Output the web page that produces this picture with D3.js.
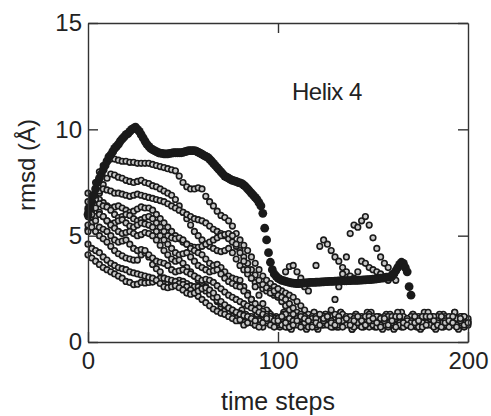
<!DOCTYPE html>
<head>
<meta charset="utf-8">
<style>

body {
  margin: 0;
  background: #fff;
}

.chart text {
  font-family: "Liberation Sans", Arial, sans-serif;
  fill: #222;
}

.axis path,
.axis line {
  stroke: #333;
  stroke-width: 1.4;
}

.axis text {
  font-size: 24px;
}

.run circle {
  fill: #c8c8c8;
  stroke: #1a1a1a;
  stroke-width: 1.6;
}

.main circle {
  fill: #1a1a1a;
}

</style>
</head>
<body>
<svg class="chart"></svg>
<script src="https://d3js.org/d3.v7.min.js"></script>
<script>

/* global d3 */

const chartDimension = {width: 491, height: 416}
const plot = {left: 88, right: 468, top: 23, bottom: 342}

const xTicks = [0, 100, 200]
const yTicks = [0, 5, 10, 15]

// heavy run, one value per time step from t = 0
const mainRun = [
  6.0, 6.3, 6.6, 6.9, 7.2, 7.5, 7.7, 7.9, 8.1, 8.3, 8.5,
  8.7, 8.8, 8.95, 9.1, 9.2, 9.3, 9.45, 9.55, 9.65, 9.75, 9.8, 9.9, 10.0, 10.05, 10.1,
  10.0, 9.9, 9.75, 9.6, 9.45, 9.3, 9.2, 9.1, 9.05, 9.0, 8.95, 8.9, 8.88, 8.87, 8.85,
  8.85, 8.85, 8.87, 8.88, 8.9, 8.9, 8.9, 8.9, 8.9, 8.92, 8.95, 8.97, 9.0, 9.0, 9.0, 9.0, 8.97, 8.93, 8.88, 8.83,
  8.78, 8.73, 8.68, 8.6, 8.5, 8.4, 8.3, 8.2, 8.1, 8.0,
  7.9, 7.8, 7.75, 7.7, 7.65, 7.6, 7.57, 7.55, 7.5, 7.48,
  7.45, 7.38, 7.3, 7.2, 7.1, 7.0, 6.9, 6.8, 6.7, 6.55,
  6.4, 6.05, 5.35, 4.8, 4.2, 3.75, 3.4, 3.2, 3.1, 3.0, 2.95, 2.9,
  2.88, 2.85, 2.83, 2.8, 2.78, 2.77, 2.76, 2.75, 2.75, 2.76,
  2.77, 2.78, 2.78, 2.79, 2.8, 2.8, 2.8, 2.81, 2.82, 2.82,
  2.83, 2.83, 2.84, 2.84, 2.85, 2.85, 2.85, 2.86, 2.86, 2.87,
  2.87, 2.88, 2.88, 2.88, 2.89, 2.89, 2.9, 2.9, 2.9, 2.9,
  2.91, 2.91, 2.92, 2.92, 2.93, 2.93, 2.94, 2.95,
  2.96, 2.97, 2.98, 3.0, 3.0, 3.02, 3.05, 3.05, 3.05, 3.1,
  3.2, 3.35, 3.5, 3.65, 3.75, 3.7, 3.5, 3.3, 2.6, 2.2
]

// other runs, one value every 2 time steps
const run1 = [
  6.2, 6.9, 7.5, 8.0, 8.3, 8.5, 8.6, 8.6, 8.55, 8.5, 8.5, 8.45, 8.45, 8.4, 8.4, 8.4,
  8.4, 8.35, 8.3, 8.25, 8.2, 8.15, 8.1, 8.05, 7.8, 7.5, 7.3, 7.2, 7.2, 7.25, 7.2,
  6.85, 6.6, 6.4, 6.15, 5.95, 5.85, 5.7, 5.45, 5.1, 4.8, 4.55, 4.3, 4.0, 3.7, 3.4,
  3.1, 2.9, 2.75, 2.6, 2.5, 2.4, 2.3, 2.2, 2.1, 1.9, 1.7, 1.5, 1.3, 1.15, 1.0
]
const run2 = [
  5.3, 5.9, 6.5, 7.0, 7.4, 7.7, 7.9, 7.85, 7.75, 7.7, 7.6, 7.55, 7.5, 7.55, 7.6,
  7.5, 7.45, 7.35, 7.3, 7.2, 7.1, 7.0, 6.9, 6.7, 6.4, 6.1, 5.8, 5.5, 5.2, 5.0,
  4.8, 4.6, 4.5, 4.4, 4.3, 4.25, 4.3, 4.4, 4.2, 3.9, 3.6, 3.4, 3.2, 3.0, 2.8,
  2.7, 2.5, 2.4, 2.3, 2.2, 2.1, 1.9, 1.7, 1.5, 1.3, 1.15, 1.0
]
const run3 = [
  5.9, 6.4, 6.8, 7.1, 7.2, 7.15, 7.1, 7.0, 7.0, 6.95, 6.9, 6.85, 6.9, 6.95, 6.9,
  6.85, 6.8, 6.75, 6.7, 6.65, 6.6, 6.5, 6.4, 6.3, 6.2, 6.1, 6.0, 5.9, 5.8, 5.75,
  5.7, 5.6, 5.45, 5.3, 5.2, 5.1, 5.0, 4.85, 4.7, 4.5, 4.3, 4.0, 3.7, 3.4, 3.15,
  2.9, 2.7, 2.55, 2.4, 2.3, 2.2, 2.1, 2.0, 1.8, 1.6, 1.4, 1.25, 1.1, 1.0
]
const run4 = [
  6.6, 6.75, 6.8, 6.7, 6.55, 6.4, 6.3, 6.35, 6.4, 6.3, 6.2, 6.1, 6.15, 6.25, 6.35,
  6.3, 6.3, 6.2, 6.0, 5.8, 5.6, 5.4, 5.2, 5.0, 4.85, 4.7, 4.6, 4.5, 4.45, 4.45,
  4.5, 4.6, 4.7, 4.8, 4.9, 5.0, 5.05, 5.1, 5.0, 4.6, 4.2, 3.8, 3.4, 3.0, 2.6,
  2.2, 1.8, 1.5, 1.3, 1.15, 1.05, 0.9, 1.1, 0.8, 1.0, 1.2, 0.9, 0.8, 1.1, 1.0,
  0.7, 0.9, 1.2, 1.0, 0.8, 1.1, 0.9, 1.3, 1.0, 0.8, 0.9, 1.1, 1.2, 0.9, 0.7,
  1.0, 1.1, 0.9, 1.2, 1.0, 0.8, 0.9, 1.1, 1.0, 0.8, 1.2, 1.0, 0.9, 0.8, 1.1,
  1.0, 0.9, 1.2, 1.0, 0.8, 0.9, 1.1, 1.0, 0.8, 1.1, 1.0
]
const run5 = [
  7.0, 6.9, 6.7, 6.5, 6.4, 6.35, 6.2, 6.0, 5.85, 5.9, 6.0, 5.95, 5.8, 5.7, 5.75,
  5.85, 5.9, 5.8, 5.6, 5.4, 5.2, 5.0, 4.9, 4.85, 4.9, 4.8, 4.6, 4.4, 4.3, 4.2,
  4.1, 3.9, 3.7, 3.6, 3.65, 3.5, 3.3, 3.1, 3.0, 2.95, 2.9, 2.6, 2.3, 2.0, 1.7,
  1.4, 1.2, 1.0, 0.9, 1.1, 0.8, 1.2, 1.0, 0.9, 1.3, 1.0, 0.8, 1.1, 0.9, 1.2,
  1.0, 1.1, 0.8, 0.9, 1.2, 1.0, 0.7, 0.9, 1.1, 1.0, 1.2, 0.8, 0.9, 1.1, 1.3,
  0.9, 0.8, 1.0, 0.9, 1.2, 1.1, 0.8, 1.0, 1.2, 0.9, 0.8, 1.1, 1.2, 1.0, 0.8,
  0.9, 1.1, 0.8, 1.0, 1.2, 1.1, 0.8, 0.9, 1.2, 0.9, 1.1
]
const run6 = [
  6.0, 6.2, 6.3, 6.1, 5.9, 5.7, 5.55, 5.6, 5.7, 5.75, 5.6, 5.45, 5.4, 5.5, 5.6,
  5.55, 5.5, 5.4, 5.2, 5.0, 4.8, 4.6, 4.4, 4.2, 4.1, 4.15, 4.2, 4.0, 3.8, 3.6,
  3.5, 3.4, 3.3, 3.35, 3.4, 3.2, 3.0, 2.85, 2.75, 2.65, 2.6, 2.4, 2.2, 2.0, 1.8,
  1.6, 1.45, 1.3, 1.2, 1.1, 1.0, 0.9, 1.2, 1.0, 0.8, 1.1, 1.3, 1.0, 0.9, 1.1,
  0.8, 1.0, 1.2, 0.9, 1.0, 1.1, 0.8, 1.0, 1.2, 0.9, 1.0, 0.8, 1.1, 1.0, 0.9, 1.2
]
const run7 = [
  5.2, 5.6, 5.9, 6.0, 5.9, 5.7, 5.5, 5.35, 5.2, 5.1, 5.15, 5.2, 5.1, 5.0, 5.05,
  5.15, 5.1, 5.0, 4.8, 4.55, 4.3, 4.1, 3.9, 3.8, 3.85, 3.7, 3.5, 3.3, 3.1, 2.9,
  2.75, 2.6, 2.4, 2.2, 1.9, 1.65, 1.5, 1.35, 1.2, 1.1, 1.0, 1.2, 0.9, 1.1, 0.8,
  1.0, 1.3, 0.9, 1.0, 0.8, 0.9, 1.1, 1.3, 1.0, 0.8, 0.9, 1.1, 1.2, 0.8, 0.9,
  1.2, 1.0, 0.9, 1.1, 1.0, 1.3, 1.1, 0.8, 0.9, 1.2, 1.1, 1.0, 0.8, 1.2, 1.0,
  0.8, 1.2, 1.1, 0.8, 0.9, 1.2, 1.1, 0.9, 0.8, 1.1, 1.0, 0.8, 1.1, 1.2, 0.9,
  1.1, 1.2, 1.0, 0.9, 1.1, 1.2, 1.0, 1.1, 0.9, 1.2, 0.9
]
const run8 = [
  5.5, 5.4, 5.2, 5.0, 4.85, 4.7, 4.5, 4.3, 4.15, 4.05, 3.95, 3.9, 3.85, 3.85, 4.1,
  4.2, 4.0, 3.65, 3.45, 3.3, 3.0, 2.8, 2.75, 2.8, 2.9, 2.85, 2.75, 2.65, 2.6, 2.6,
  2.55, 2.4, 2.25, 2.1, 1.95, 1.8, 1.7, 1.6, 1.5, 1.4, 1.35, 1.2, 1.1, 0.9, 1.0,
  0.8, 0.7, 1.0, 1.2, 0.9, 1.1, 0.8, 0.7, 1.1, 1.0, 0.8, 1.2, 0.9, 0.7, 0.8,
  1.1, 1.3, 1.0, 0.8, 0.7, 0.9, 1.2, 1.0, 0.8, 1.0, 0.7, 0.9, 1.0, 0.8, 1.2,
  1.0, 0.7, 0.8, 1.0, 0.7, 0.9, 1.2, 0.8, 0.7, 1.0, 0.9, 1.2, 0.7, 0.9, 1.2,
  0.8, 0.7, 0.9, 1.2, 1.0, 0.7, 1.2, 0.8, 1.0, 0.7, 0.8
]
const run9 = [
  6.3, 6.0, 5.7, 5.4, 5.3, 5.2, 5.0, 4.8, 4.7, 4.75, 4.8, 4.6, 4.4, 4.3, 4.35,
  4.3, 4.1, 3.95, 3.8, 3.75, 3.7, 3.6, 3.4, 3.3, 3.35, 3.4, 3.3, 3.2, 3.1, 3.0,
  2.9, 2.95, 2.9, 2.8, 2.65, 2.5, 2.35, 2.2, 2.1, 2.0, 1.9, 1.8, 1.7, 1.6, 1.5,
  1.4, 1.3, 1.2, 1.1, 1.0
]
const run10 = [
  4.1, 3.95, 3.8, 3.65, 3.5, 3.4, 3.3, 3.2, 3.1, 3.0, 2.85, 2.8, 2.7, 2.72, 2.8,
  2.78, 2.8, 2.82, 2.9, 3.0, 3.0, 2.95, 2.9, 2.85, 2.75, 2.7, 2.6, 2.45, 2.3, 2.15,
  2.0, 1.85, 1.7, 1.55, 1.45, 1.35, 1.3, 1.2, 1.1, 1.0, 1.05, 0.8, 0.9, 1.2, 0.8,
  0.7, 0.9, 1.1, 0.8, 0.7, 1.0, 1.2, 0.9, 0.7, 0.8, 1.0, 0.7, 1.1, 1.0, 0.7,
  0.9, 0.8, 1.0, 1.2, 0.9, 0.8, 1.0, 0.7, 1.1, 0.8, 1.0, 1.2, 0.7, 0.8, 1.0,
  1.1, 0.9, 0.7, 1.1, 0.8, 1.0, 0.7, 1.2, 0.9, 0.8, 0.7, 0.9, 1.0, 0.7, 0.8,
  1.2, 1.0, 0.8, 0.7, 0.9, 1.0, 0.9, 0.7, 1.1, 0.8, 0.9
]
const run11 = [
  4.6, 4.4, 4.3, 4.2, 4.0, 3.85, 3.7, 3.6, 3.5, 3.45, 3.4, 3.3, 3.25, 3.2, 3.15,
  3.1, 3.05, 3.0, 2.9, 2.75, 2.6, 2.55, 2.6, 2.65, 2.55, 2.45, 2.3, 2.25, 2.3, 2.4,
  2.5, 2.55, 2.45, 2.3, 2.1, 1.9, 1.75, 1.6, 1.5, 1.4, 1.3, 1.25, 1.2, 1.1, 1.0
]
// late excursions
const run12 = [
  2.3, 2.4, 2.5, 2.9, 3.3, 3.55, 3.6, 3.3, 3.0, 2.6, 2.4, 2.8, 3.6, 4.5, 4.8, 4.6,
  4.3, 4.0, 3.8, 3.5, 3.3, 3.1, 3.0, 3.3, 3.8, 3.7, 3.5, 3.4, 3.3, 3.2, 3.0, 2.9
]
const run13 = [
  1.1, 1.2, 1.5, 2.0, 2.6, 3.2, 4.0, 5.1, 5.5, 5.4, 5.7, 5.9, 5.5, 4.9, 4.4, 4.0,
  3.7, 3.5, 3.2, 2.9
]
// settled runs in the low band, on odd time steps
const run14 = [
  1.5, 1.3, 1.2, 1.0, 1.3, 0.9, 1.1, 1.4, 0.8, 1.2,
  1.0, 1.4, 0.7, 1.1, 1.3, 0.9, 1.2, 0.6, 1.0, 1.4,
  1.1, 0.8, 1.3, 1.0, 0.7, 1.2, 1.4, 0.9, 1.1, 0.6,
  1.3, 1.0, 0.8, 1.4, 1.1, 0.7, 1.2, 0.9, 1.3, 1.0,
  0.6, 1.2, 1.4, 0.8, 1.0, 1.3, 0.7, 1.1, 1.4, 0.9,
  1.2, 0.6, 1.0, 1.3, 0.8, 1.1, 1.4, 0.7, 1.2, 1.0
]
const run15 = [
  0.7, 1.3, 1.0, 0.6, 1.4, 1.1, 0.8, 1.2, 0.9, 1.4,
  0.6, 1.0, 1.3, 0.8, 1.1, 0.7, 1.4, 1.2, 0.9, 0.6,
  1.3, 1.0, 0.7, 1.2, 1.4, 0.8, 1.1, 0.6, 1.0, 1.3,
  0.9, 1.4, 0.7, 1.1, 0.8, 1.3, 1.0, 0.6, 1.2, 1.4,
  0.8, 1.0, 1.3, 0.7, 1.1, 0.9, 1.4, 0.6, 1.2, 1.0
]

const runValues = [run14, run15, run1, run2, run3, run4, run5, run6, run7, run8, run9, run10, run11, run12, run13]
const runStarts = [81, 101, 0, 0, 0, 0, 0, 0, 0, 0, 0, 0, 0, 96, 124]
const runStep = 2

let chart = d3.select('svg')
  .attr('width', chartDimension.width)
  .attr('height', chartDimension.height)

const x = d3.scaleLinear().domain([0, 200]).range([plot.left, plot.right])
const y = d3.scaleLinear().domain([0, 15]).range([plot.bottom, plot.top])

runLayer(chart)
mainLayer(chart)
axisLayer(chart)
labelLayer(chart)

function runLayer(chart) {
  runValues.forEach((values, i) => {
    chart.append('g')
      .attr('class', 'run')
      .selectAll('circle')
      .data(values.map((v, k) => ({t: runStarts[i] + k * runStep, v})))
      .enter()
        .append('circle')
        .attr('cx', d => x(d.t))
        .attr('cy', d => y(d.v))
        .attr('r', 2.8)
  })
}

function mainLayer(chart) {
  chart.append('g')
    .attr('class', 'main')
    .selectAll('circle')
    .data(mainRun.map((v, t) => ({t, v})))
    .enter()
      .append('circle')
      .attr('cx', d => x(d.t))
      .attr('cy', d => y(d.v))
      .attr('r', 4.4)
}

function axisLayer(chart) {
  chart.append('g')
    .attr('class', 'axis')
    .attr('transform', `translate(0, ${plot.bottom})`)
    .call(d3.axisBottom(x).tickValues(xTicks).tickSize(-10).tickSizeOuter(0).tickPadding(10))

  chart.append('g')
    .attr('class', 'axis')
    .attr('transform', `translate(${plot.left}, 0)`)
    .call(d3.axisLeft(y).tickValues(yTicks).tickSize(-10).tickSizeOuter(0).tickPadding(6))

  chart.append('g')
    .attr('class', 'axis')
    .attr('transform', `translate(0, ${plot.top})`)
    .call(d3.axisTop(x).tickValues([100]).tickSize(-10).tickSizeOuter(0).tickFormat(''))

  chart.append('g')
    .attr('class', 'axis')
    .attr('transform', `translate(${plot.right}, 0)`)
    .call(d3.axisRight(y).tickValues(yTicks).tickSize(-10).tickSizeOuter(0).tickFormat(''))

  chart.selectAll('.axis text')
    .attr('fill', '#222')
    .style('font-family', '"Liberation Sans", Arial, sans-serif')
}

function labelLayer(chart) {
  chart.append('text')
    .attr('x', (plot.left + plot.right) / 2)
    .attr('y', 410)
    .style('font-size', '25px')
    .style('text-anchor', 'middle')
    .text('time steps')

  chart.append('text')
    .attr('transform', 'translate(35, 165) rotate(-90)')
    .style('font-size', '24px')
    .style('text-anchor', 'middle')
    .text('rmsd (Å)')

  chart.append('text')
    .attr('x', 292)
    .attr('y', 100)
    .style('font-size', '24px')
    .style('letter-spacing', '-0.5px')
    .text('Helix 4')
}

</script>
</body>
